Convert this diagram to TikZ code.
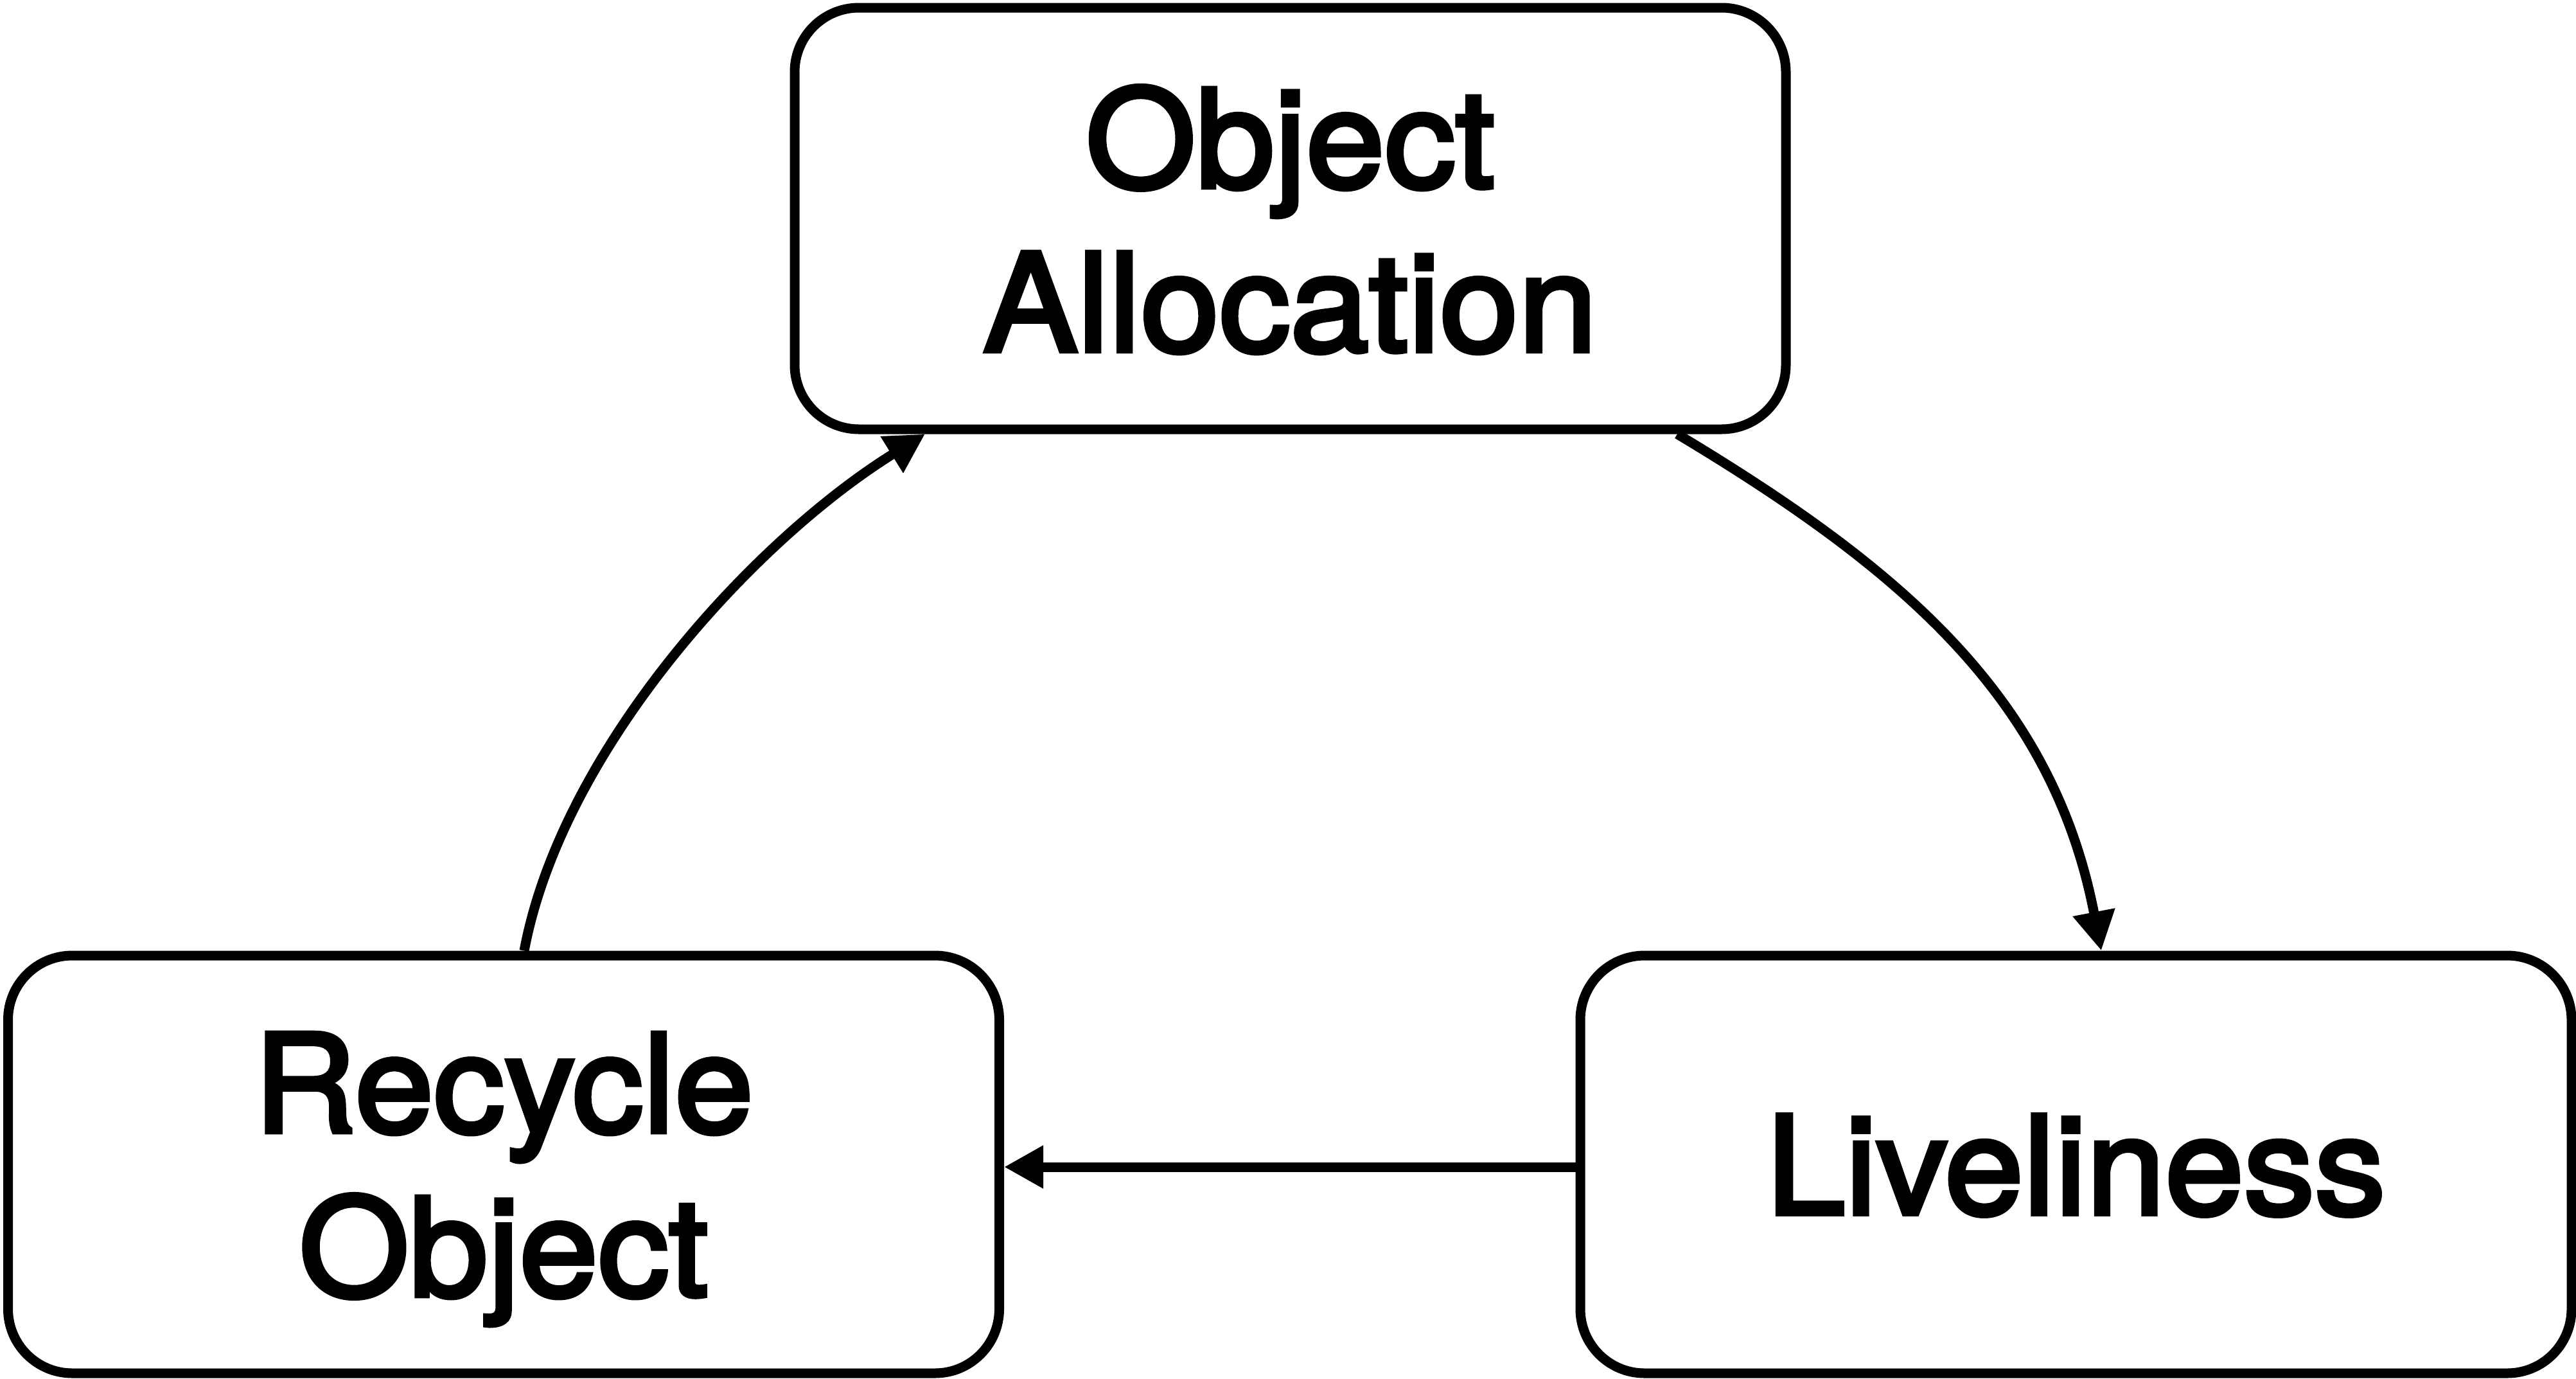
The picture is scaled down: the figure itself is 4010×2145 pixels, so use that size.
\documentclass[tikz,border=0pt]{standalone}
\usepackage{fontspec}
\newfontfamily\boxfont{TeX Gyre Heros}[FakeBold=3.3, FakeStretch=1.04]
\usetikzlibrary{arrows.meta}
\tikzset{
  box/.style={draw, line width=15pt, rounded corners=100pt, inner sep=0pt,
    minimum width=1543pt, align=center, text depth=0pt,
    font=\fontsize{212}{255}\selectfont\boxfont},
  link/.style={line width=15pt, -{Triangle[length=61pt,width=63pt]}}
}
\begin{document}
\begin{tikzpicture}[x=1pt, y=-1pt]
  \useasboundingbox (0,0) rectangle (4010,2145);

  % the three stages of the object life cycle
  \node[box, minimum height=656pt] (alloc)   at (2008.5,340) {Object\\Allocation};
  \node[box, minimum height=650pt] (recycle) at (784,1812)   {Recycle\\Object};
  \node[box, minimum height=650pt] (live)    at (3231.5,1812) {Liveliness};

  % transitions between the stages
  \draw[link] ([xshift=602.5pt]alloc.south) .. controls (2960,885) and (3195,1085) .. ([xshift=39.5pt]live.north);
  \draw[link] ([yshift=-4pt]live.west) -- ([yshift=-4pt]recycle.east);
  \draw[link] ([xshift=32pt]recycle.north) .. controls (875,1165) and (1175,840) .. ([xshift=-568.5pt]alloc.south);
\end{tikzpicture}
\end{document}
